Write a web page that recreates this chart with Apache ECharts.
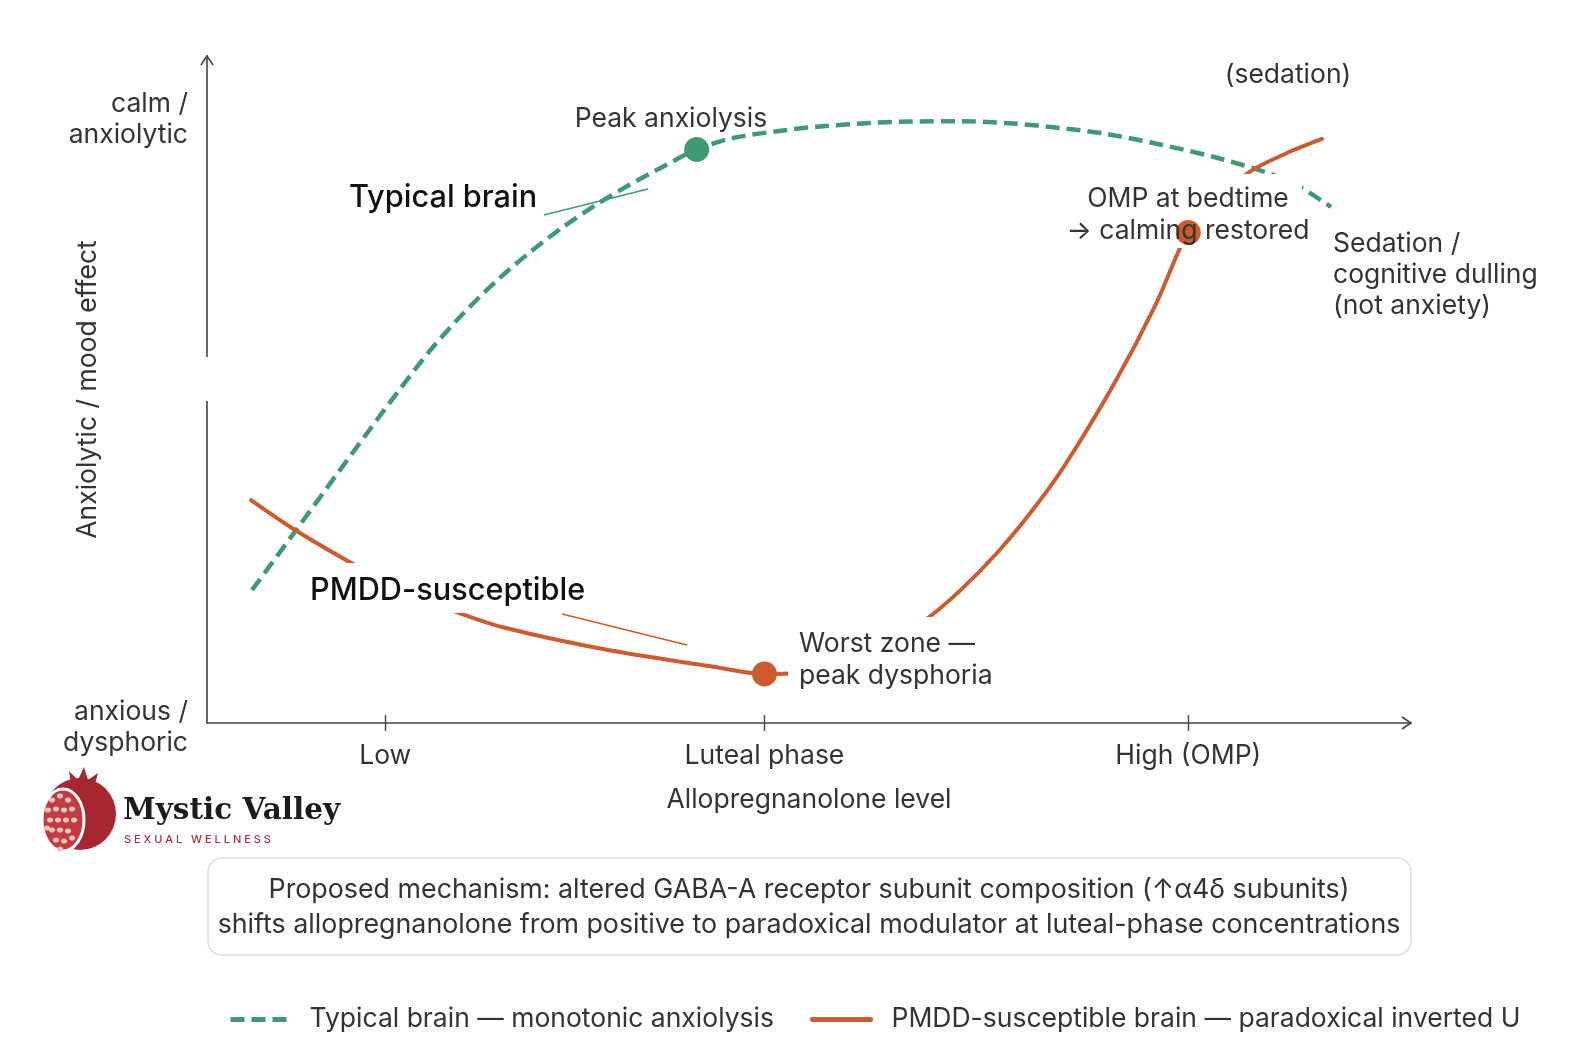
<!DOCTYPE html>
<html>
<head>
<meta charset="utf-8">
<title>Allopregnanolone response</title>
<script src="https://cdn.jsdelivr.net/npm/echarts@6/dist/echarts.min.js"></script>
<style>
  html, body { margin: 0; padding: 0; background: #ffffff; }
  #chart { width: 1588px; height: 1056px; }
</style>
</head>
<body>
<div id="chart"></div>
<script>
// ---------------- data ----------------
const xTickValues = [14.8, 46.3, 81.5];
const xTickLabels = ['Low', 'Luteal phase', 'High (OMP)'];
const yLabelTexts = ['calm /\nanxiolytic', 'anxious /\ndysphoric'];

const typicalX = [3.74, 7.48, 11.05, 13.54, 16.03, 18.52, 21.26, 24.09, 26.83, 29.57, 32.39, 35.13, 37.87, 40.67, 43.69, 48.17, 50.91, 55.07, 58.47, 62.71, 66.94, 70.85, 74.75, 79.15, 83.64, 88.37, 90.78, 93.36];
const typicalY = [19.94, 29.12, 37.95, 44.06, 50.07, 55.82, 61.36, 66.36, 70.60, 74.35, 77.78, 80.73, 83.40, 85.98, 87.71, 88.91, 89.43, 89.96, 90.18, 90.21, 89.88, 89.21, 88.31, 86.73, 84.86, 82.31, 80.36, 77.36];

const pmddX = [3.65, 7.45, 12.29, 16.45, 20.51, 24.83, 33.31, 41.69, 46.3, 48.26, 51.74, 55.9, 59.63, 62.54, 65.61, 68.36, 71.10, 75.33, 78.74, 80.81, 81.5, 86.3, 89.53, 92.61];
const pmddY = [33.43, 28.79, 23.69, 19.79, 16.79, 14.24, 10.94, 8.55, 7.35, 7.42, 8.85, 11.69, 15.44, 19.85, 25.49, 31.44, 38.23, 50.82, 62.52, 71.21, 73.54, 82.23, 85.31, 87.56];

const typicalKeyX = [40.67];
const typicalKeyY = [85.98];
const pmddKeyX = [46.3, 81.5];
const pmddKeyY = [7.35, 73.54];

const seriesNames = ['Typical brain — monotonic anxiolysis', 'PMDD-susceptible brain — paradoxical inverted U'];
const axisNames = ['Allopregnanolone level', 'Anxiolytic / mood effect'];

// ---------------- styling ----------------
const GREEN = '#3f9a72';
const ORANGE = '#cd5b2f';
const TEXT = '#333333';
const AXIS = '#444444';
const FONT = 'Inter, "Noto Sans", sans-serif';
const FS = 26.5;

const zip = (xs, ys) => xs.map((x, i) => [x, ys[i]]);

const chart = echarts.init(document.getElementById('chart'), null, { renderer: 'canvas' });

const seeds = [
  [52, 800], [60, 796], [68, 800], [48, 810], [56, 809], [64, 810], [72, 809],
  [50, 820], [58, 820], [66, 820], [74, 820], [52, 830], [60, 830], [68, 831],
  [56, 840], [64, 841], [72, 838], [60, 849], [47, 828]
];

const txt = (text, x, y, align, font, extra) => Object.assign({
  type: 'text', z: 20,
  style: Object.assign({ text: text, x: x, y: y, textAlign: align, textVerticalAlign: 'middle', font: font, fill: TEXT }, extra || {})
});

const NF = '400 ' + FS + 'px ' + FONT;
const BF = '500 30.7px ' + FONT;

const graphic = [
  // y-axis gap
  { type: 'rect', shape: { x: 202, y: 357, width: 11, height: 44 }, style: { fill: '#ffffff' }, z: 50 },
  // axis arrow heads
  { type: 'polyline', shape: { points: [[1402, 717], [1411, 723], [1402, 729]] }, style: { stroke: AXIS, lineWidth: 1.6, fill: null }, z: 50 },
  { type: 'polyline', shape: { points: [[201, 65], [207, 56], [213, 65]] }, style: { stroke: AXIS, lineWidth: 1.6, fill: null }, z: 50 },

  // y-axis end labels
  txt(yLabelTexts[0], 188, 120, 'right', NF, { lineHeight: 31 }),
  txt(yLabelTexts[1], 188, 728, 'right', NF, { lineHeight: 31 }),

  // connectors
  { type: 'line', shape: { x1: 544, y1: 215, x2: 648, y2: 189 }, style: { stroke: GREEN, lineWidth: 1.6 }, z: 3 },
  { type: 'line', shape: { x1: 562, y1: 614, x2: 687, y2: 645 }, style: { stroke: ORANGE, lineWidth: 1.6 }, z: 3 },

  // label backgrounds
  { type: 'rect', shape: { x: 300, y: 563, width: 298, height: 50 }, style: { fill: '#ffffff' }, z: 5 },
  { type: 'rect', shape: { x: 788, y: 617, width: 212, height: 80 }, style: { fill: '#ffffff' }, z: 5 },
  { type: 'rect', shape: { x: 1060, y: 174, width: 242, height: 74, r: 8 }, style: { fill: '#ffffff' }, z: 5 },

  // annotation texts
  txt('Peak anxiolysis', 671, 119, 'center', NF),
  txt('Typical brain', 349, 198, 'left', BF, { fill: '#111111' }),
  txt('PMDD-susceptible', 310, 591, 'left', BF, { fill: '#111111' }),
  txt('Worst zone —\npeak dysphoria', 799, 660.5, 'left', NF, { lineHeight: 32 }),
  txt('OMP at bedtime\n→ calming restored', 1188, 215, 'center', NF, { lineHeight: 31.5 }),
  txt('Sedation /\ncognitive dulling\n(not anxiety)', 1333, 275.5, 'left', NF, { lineHeight: 31 }),
  txt('(sedation)', 1288, 75, 'center', NF),

  // mechanism box
  { type: 'rect', shape: { x: 208, y: 858, width: 1203, height: 97, r: 14 }, style: { fill: '#ffffff', stroke: '#e0e0e0', lineWidth: 1.5 }, z: 1 },
  txt('Proposed mechanism: altered GABA-A receptor subunit composition (↑α4δ subunits)\nshifts allopregnanolone from positive to paradoxical modulator at luteal-phase concentrations', 809, 907.5, 'center', '400 26.8px ' + FONT, { lineHeight: 35.5 }),

  // logo
  { type: 'circle', shape: { cx: 80, cy: 814, r: 36 }, style: { fill: '#a8262f' }, z: 20 },
  { type: 'ellipse', shape: { cx: 63, cy: 820, rx: 21, ry: 31 }, style: { fill: '#c23b43', stroke: '#ffffff', lineWidth: 3 }, z: 21 },
  { type: 'polygon', shape: { points: [[72, 790], [69, 771], [78, 780], [84, 767], [88, 780], [98, 773], [93, 791]] }, style: { fill: '#a8262f' }, z: 20 }
].concat(seeds.map(p => ({ type: 'ellipse', shape: { cx: p[0], cy: p[1], rx: 3.2, ry: 2.6 }, style: { fill: '#f3c6bd' }, z: 22 })))
 .concat([
  txt('Mystic Valley', 123, 811, 'left', 'bold 29.5px "DejaVu Serif", serif', { fill: '#1b1b1b' }),
  txt('S E X U A L   W E L L N E S S', 124, 840, 'left', '500 11px ' + FONT, { fill: '#b0303a' })
]);

const option = {
  backgroundColor: '#ffffff',
  animation: false,
  textStyle: { fontFamily: FONT },
  grid: { left: 207, right: 177, top: 56, bottom: 333, containLabel: false },
  xAxis: [
    {
      type: 'value', min: 0, max: 100, position: 'bottom',
      name: axisNames[0], nameLocation: 'middle', nameGap: 64, nameMoveOverlap: false,
      nameTextStyle: { fontSize: FS, color: TEXT, fontFamily: FONT },
      axisLine: { show: true, onZero: false, lineStyle: { color: AXIS, width: 1.6 } },
      axisTick: { show: true, customValues: xTickValues, length: 8, lineStyle: { color: AXIS, width: 1.4 } },
      axisLabel: {
        show: true, customValues: xTickValues, margin: 20, fontSize: FS, color: TEXT, fontFamily: FONT,
        formatter: v => { const i = xTickValues.findIndex(t => Math.abs(t - v) < 1e-6); return i >= 0 ? xTickLabels[i] : ''; }
      },
      splitLine: { show: false }
    },
    {
      type: 'value', min: 0, max: 100, position: 'bottom', offset: 0,
      axisLine: { show: false },
      axisTick: { show: true, inside: true, customValues: xTickValues, length: 8, lineStyle: { color: AXIS, width: 1.4 } },
      axisLabel: { show: false },
      splitLine: { show: false }
    }
  ],
  yAxis: {
    type: 'value', min: 0, max: 100,
    name: axisNames[1], nameLocation: 'middle', nameGap: 105, nameRotate: 90, nameMoveOverlap: false,
    nameTextStyle: { fontSize: FS, color: TEXT, fontFamily: FONT },
    axisLine: { show: true, onZero: false, lineStyle: { color: AXIS, width: 1.6 } },
    axisTick: { show: false },
    axisLabel: { show: false },
    splitLine: { show: false }
  },
  legend: {
    data: seriesNames,
    left: 228, top: 1006, padding: 0,
    itemWidth: 58, itemHeight: 14, itemGap: 36,
    itemStyle: { opacity: 0 },
    lineStyle: { width: 5 },
    textStyle: { fontSize: FS, color: TEXT, fontFamily: FONT, padding: [0, 0, 0, 16] },
    selectedMode: false
  },
  graphic: graphic,
  series: [
    {
      name: seriesNames[0], type: 'line', data: zip(typicalX, typicalY),
      smooth: 0.3, symbol: 'none', z: 2,
      itemStyle: { color: GREEN },
      lineStyle: { color: GREEN, width: 4.5, type: [14, 7], cap: 'butt' }
    },
    {
      name: seriesNames[1], type: 'line', data: zip(pmddX, pmddY),
      smooth: 0.3, symbol: 'none', z: 2,
      itemStyle: { color: ORANGE },
      lineStyle: { color: ORANGE, width: 4, cap: 'round' }
    },
    {
      name: 'typical-key', type: 'scatter', data: zip(typicalKeyX, typicalKeyY),
      symbol: 'circle', symbolSize: 25, z: 8, itemStyle: { color: GREEN, opacity: 1 }
    },
    {
      name: 'pmdd-key', type: 'scatter', data: zip(pmddKeyX, pmddKeyY),
      symbol: 'circle', symbolSize: 25, z: 8, itemStyle: { color: ORANGE, opacity: 1 }
    }
  ]
};

chart.setOption(option);
</script>
</body>
</html>
